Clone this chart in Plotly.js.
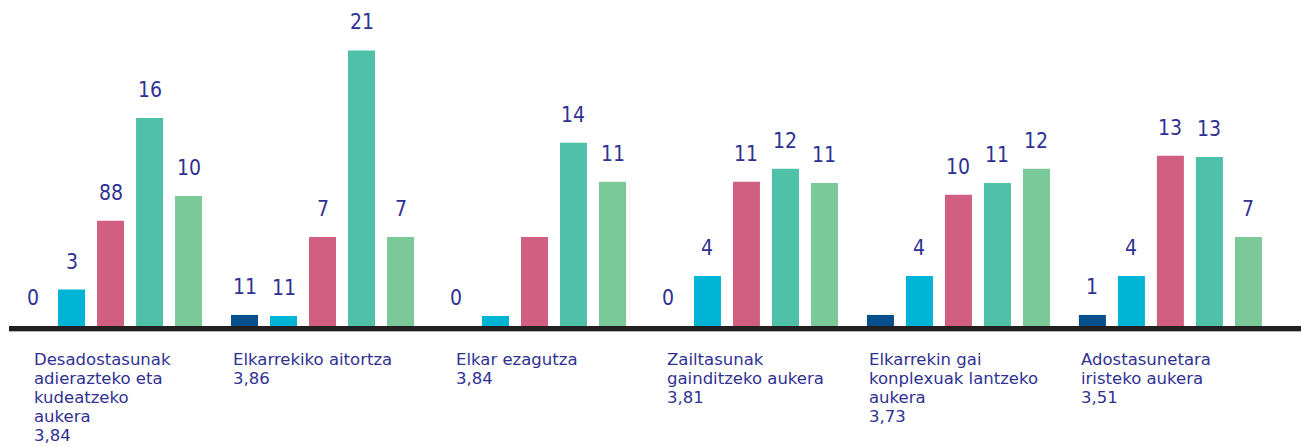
<!DOCTYPE html>
<html>
<head>
<meta charset="utf-8">
<script src="https://cdn.plot.ly/plotly-3.0.1.min.js"></script>
<style>html,body{margin:0;padding:0;background:#fff;}#chart{width:1301px;height:447px;}</style>
</head>
<body>
<div id="chart"></div>
<script>
// ---- data ----
const categories = [
  "Desadostasunak<br>adierazteko eta<br>kudeatzeko<br>aukera<br>3,84",
  "Elkarrekiko aitortza<br>3,86",
  "Elkar ezagutza<br>3,84",
  "Zailtasunak<br>gainditzeko aukera<br>3,81",
  "Elkarrekin gai<br>konplexuak lantzeko<br>aukera<br>3,73",
  "Adostasunetara<br>iristeko aukera<br>3,51"
];
const series1 = [0, 0.85, 0, 0, 0.85, 0.85];
const series2 = [2.8, 0.77, 0.77, 3.85, 3.85, 3.85];
const series3 = [8.1, 6.85, 6.85, 11.1, 10.1, 13.1];
const series4 = [16, 21.2, 14.1, 12.1, 11, 13];
const series5 = [10, 6.85, 11.1, 11, 12.1, 6.85];
const labels1 = ["0", "11", "0", "0", "", "1"];
const labels2 = ["3", "11", "", "4", "4", "4"];
const labels3 = ["88", "7", "", "11", "10", "13"];
const labels4 = ["16", "21", "14", "12", "11", "13"];
const labels5 = ["10", "7", "11", "11", "12", "7"];

// ---- styles / layout ----
const colors = ["#05508c", "#00b4d6", "#d15f82", "#4fc1a8", "#7bc998"];
const textColor = "#2f3192";
const allSeries = [series1, series2, series3, series4, series5];
const allLabels = [labels1, labels2, labels3, labels4, labels5];
const xs = categories.map((_, i) => i);
const bargap = 0.08, bargroupgap = 0.3077;
const slot = (1 - bargap) / allSeries.length;
const catNudge = [-0.369, -0.434, -0.378, -0.382, -0.431, -0.432];

const traces = allSeries.map((s, k) => ({
  type: "bar", x: xs, y: s,
  marker: {color: colors[k]},
  hoverinfo: "skip", showlegend: false
}));

const annotations = [];
allSeries.forEach((s, k) => {
  s.forEach((v, i) => {
    const t = allLabels[k][i];
    if (!t) return;
    annotations.push({
      x: i + (k - 2) * slot, y: v, xref: "x", yref: "y",
      text: t, showarrow: false, xanchor: "center", yanchor: "bottom",
      yshift: 14,
      font: {family: "DejaVu Sans Condensed, DejaVu Sans", size: 21, color: textColor}
    });
  });
});
categories.forEach((c, i) => {
  c.split("<br>").forEach((line, j) => {
    annotations.push({
      x: i + catNudge[i], y: 0, xref: "x", yref: "paper",
      text: line, showarrow: false, xanchor: "left", yanchor: "top",
      yshift: -22 - 19 * j,
      font: {family: "DejaVu Sans", size: 16.5, color: textColor}
    });
  });
});

const layout = {
  width: 1301, height: 447,
  margin: {l: 9, r: 0, t: 0, b: 121, pad: 0},
  paper_bgcolor: "#ffffff", plot_bgcolor: "#ffffff",
  barmode: "group", bargap: bargap, bargroupgap: bargroupgap,
  xaxis: {range: [-0.479, 5.616], showgrid: false, zeroline: false,
          showticklabels: false, ticks: "", showline: true,
          linewidth: 5, linecolor: "#231f20", fixedrange: true},
  yaxis: {range: [0, 25.08], visible: false, fixedrange: true},
  shapes: [{type: "line", xref: "paper", yref: "paper", x0: 0, x1: 1,
            y0: -0.0169, y1: -0.0169, line: {color: "#b5b5b5", width: 1.2}}],
  annotations: annotations
};
Plotly.newPlot("chart", traces, layout, {displayModeBar: false, staticPlot: true});
</script>
</body>
</html>
